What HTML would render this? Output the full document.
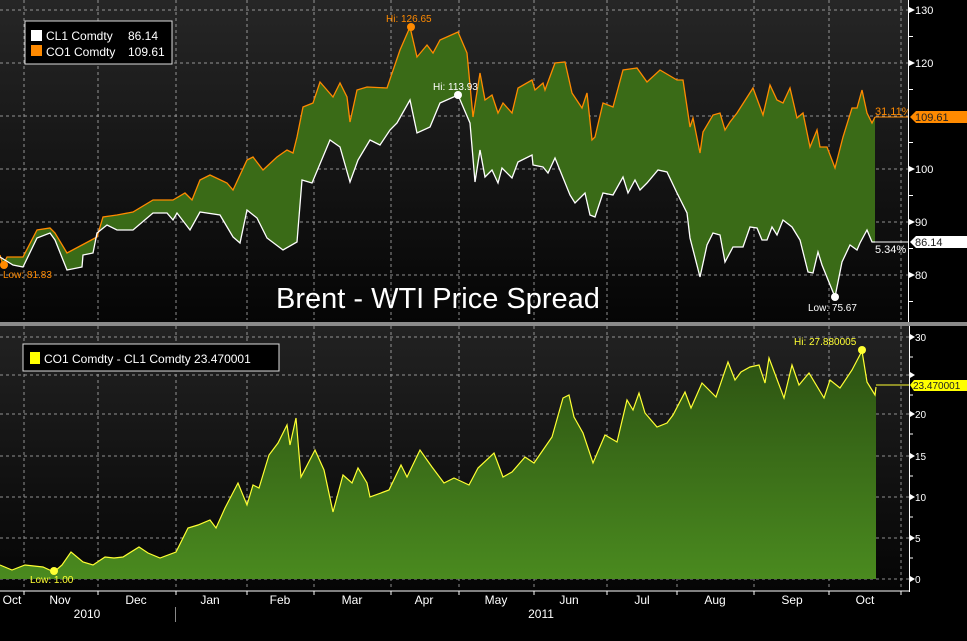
<!DOCTYPE html>
<html><head><meta charset="utf-8"><style>
html,body{margin:0;padding:0;background:#000;width:967px;height:641px;overflow:hidden}
svg{display:block;font-family:"Liberation Sans",sans-serif}
</style></head><body>
<svg id="s" width="967" height="641" viewBox="0 0 967 641" xmlns="http://www.w3.org/2000/svg">
<defs>
<linearGradient id="bg" x1="0" y1="0" x2="0" y2="1"><stop offset="0" stop-color="#262626"/><stop offset="1" stop-color="#050505"/></linearGradient>
<linearGradient id="bg2" x1="0" y1="0" x2="0" y2="1"><stop offset="0" stop-color="#222"/><stop offset="1" stop-color="#050505"/></linearGradient>
<linearGradient id="gf" x1="0" y1="0" x2="0" y2="1"><stop offset="0" stop-color="#2c5212"/><stop offset="1" stop-color="#4a8a1f"/></linearGradient>
</defs>
<rect x="0" y="0" width="908" height="322" fill="url(#bg)"/>
<rect x="0" y="326" width="909" height="264" fill="url(#bg2)"/>
<rect x="0" y="322" width="967" height="4" fill="#8a8a8a"/>
<g id="grid" stroke="#bbb" stroke-width="1" stroke-dasharray="3,3" opacity="0.75"></g>
<g id="data"></g>
<g id="axes"></g>
</svg>
<script>
const NS="http://www.w3.org/2000/svg";
function el(t,a,x,y){let p,txt;if(typeof x==='string'){txt=x;p=y;}else{p=x;txt=y;}const e=document.createElementNS(NS,t);for(const k in a)e.setAttribute(k,a[k]);if(txt!==undefined)e.textContent=txt;(p||document.getElementById('s')).appendChild(e);return e;}
const grid=document.getElementById('grid'),data=document.getElementById('data'),axes=document.getElementById('axes');
const vx=[24,98,176,247,314,391,459,534,607,677,754,829,901];
vx.forEach(x=>{el('line',{x1:x,y1:0,x2:x,y2:320},grid);el('line',{x1:x,y1:326,x2:x,y2:590},grid);});
[10,63,116,169,222,275].forEach(y=>el('line',{x1:0,y1:y,x2:908,y2:y},grid));
[337,375,414,456,497,538,579].forEach(y=>el('line',{x1:0,y1:y,x2:909,y2:y},grid));

const brent=[[0,255],[3,265],[7,257],[23,257],[37,230],[50,228],[55,233],[67,253],[82,245],[97,237],[103,217],[117,215],[133,212],[153,200],[173,200],[185,193],[192,200],[200,180],[210,175],[227,183],[233,190],[247,160],[253,157],[263,170],[277,157],[287,150],[293,153],[297,137],[303,107],[313,103],[320,82],[333,97],[340,83],[347,97],[350,122],[357,90],[367,87],[387,88],[400,50],[410,27],[417,57],[427,45],[433,53],[440,40],[458,32],[467,53],[473,117],[480,73],[485,100],[492,95],[498,113],[503,103],[512,113],[518,88],[532,80],[535,90],[543,83],[545,90],[555,63],[565,62],[572,93],[582,108],[587,93],[592,140],[595,137],[603,103],[613,107],[623,70],[637,68],[647,82],[660,70],[677,80],[683,80],[690,127],[693,118],[700,153],[703,132],[713,115],[720,113],[725,130],[730,122],[737,113],[753,88],[763,115],[770,85],[777,100],[783,103],[790,88],[797,118],[803,113],[810,147],[817,130],[820,147],[827,147],[835,168],[843,137],[852,108],[857,108],[862,90],[867,113],[872,123],[875,117]];
const wti=[[0,257],[13,265],[23,267],[37,238],[50,233],[55,240],[67,270],[82,267],[83,255],[93,253],[97,233],[107,225],[117,230],[133,230],[153,213],[167,213],[173,220],[177,213],[190,230],[200,212],[220,215],[233,237],[240,243],[247,210],[257,218],[267,238],[283,250],[297,242],[302,180],[312,183],[330,140],[340,147],[350,182],[358,160],[370,140],[380,145],[390,130],[397,123],[410,100],[417,133],[430,127],[440,103],[458,95],[470,123],[475,182],[480,150],[485,177],[492,170],[498,183],[502,168],[512,178],[518,162],[532,155],[533,165],[543,167],[548,173],[555,158],[570,195],[575,203],[585,193],[590,215],[595,217],[603,193],[613,195],[623,177],[628,193],[635,180],[640,190],[647,183],[658,170],[667,172],[677,193],[687,213],[690,238],[700,277],[707,245],[713,233],[720,235],[725,262],[733,247],[743,247],[750,227],[757,228],[762,240],[767,240],[772,227],[777,235],[783,220],[792,227],[800,240],[808,272],[813,273],[818,252],[822,265],[835,297],[842,262],[850,245],[857,250],[860,243],[867,230],[872,242],[875,242]];
const spr=[[0,565],[12,570],[25,565],[43,567],[54,572],[62,565],[71,552],[83,562],[93,565],[105,557],[114,558],[123,557],[139,547],[148,553],[160,558],[176,552],[188,528],[198,525],[210,520],[216,528],[225,508],[238,483],[247,505],[253,485],[259,488],[269,455],[278,443],[287,425],[290,445],[296,418],[301,477],[315,450],[324,470],[333,512],[343,475],[352,483],[358,468],[367,483],[370,497],[389,490],[401,465],[407,477],[420,450],[432,467],[444,483],[454,478],[469,485],[478,468],[494,453],[503,477],[512,472],[525,457],[534,463],[543,450],[552,437],[563,398],[569,395],[574,417],[583,433],[593,463],[605,435],[617,442],[627,400],[633,410],[639,393],[645,413],[657,427],[667,423],[673,415],[685,392],[691,408],[702,383],[716,397],[728,362],[735,380],[741,372],[750,367],[759,365],[765,383],[769,358],[784,398],[792,365],[799,385],[809,373],[824,398],[830,380],[840,388],[852,370],[862,351],[867,382],[875,395],[876,387]];
const P=a=>a.map(p=>p[0]+','+p[1]).join(' ');
el('polygon',{points:P(brent)+' '+P(wti.slice().reverse()),fill:'#3a6b17'},data);
el('polyline',{points:P(brent),fill:'none',stroke:'#ff8a00','stroke-width':1.3},data);
el('polyline',{points:P(wti),fill:'none',stroke:'#fff','stroke-width':1.3},data);
el('polygon',{points:P(spr)+' 876,579 0,579',fill:'url(#gf)'},data);
el('polyline',{points:P(spr),fill:'none',stroke:'#ffff33','stroke-width':1.2},data);
el('line',{x1:875,y1:117,x2:908,y2:117,stroke:'#ff8a00'},data);
el('line',{x1:875,y1:242,x2:908,y2:242,stroke:'#fff'},data);
el('line',{x1:876,y1:385,x2:909,y2:385,stroke:'#ffff33'},data);
el('circle',{cx:4,cy:265,r:4,fill:'#ff8a00'},data);
el('text',{x:3,y:278,fill:'#ff8a00','font-size':10},'Low: 81.83',data);
el('circle',{cx:411,cy:27,r:4,fill:'#ff8a00'},data);
el('text',{x:386,y:22,fill:'#ff8a00','font-size':10},'Hi: 126.65',data);
el('circle',{cx:458,cy:95,r:4,fill:'#fff'},data);
el('text',{x:433,y:90,fill:'#fff','font-size':10},'Hi: 113.93',data);
el('circle',{cx:835,cy:297,r:4,fill:'#fff'},data);
el('text',{x:808,y:311,fill:'#fff','font-size':10},'Low: 75.67',data);
el('text',{x:875,y:115,fill:'#ff8a00','font-size':11},'31.11%',data);
el('text',{x:875,y:253,fill:'#fff','font-size':11},'5.34%',data);
el('circle',{cx:54,cy:571,r:4,fill:'#ffff33'},data);
el('text',{x:30,y:583,fill:'#ffff33','font-size':10},'Low: 1.00',data);
el('circle',{cx:862,cy:350,r:4,fill:'#ffff33'},data);
el('text',{x:794,y:345,fill:'#ffff33','font-size':10},'Hi: 27.880005',data);
el('text',{x:276,y:308,fill:'#fff','font-size':29},'Brent - WTI Price Spread',data);
el('rect',{x:25,y:21,width:147,height:43,fill:'#000',stroke:'#ddd','stroke-width':1},axes);
el('rect',{x:31,y:30,width:11,height:11,fill:'#fff'},axes);
el('rect',{x:31,y:45,width:11,height:11,fill:'#ff8a00'},axes);
el('text',{x:46,y:40,fill:'#fff','font-size':12},'CL1 Comdty',axes);
el('text',{x:128,y:40,fill:'#fff','font-size':12},'86.14',axes);
el('text',{x:46,y:56,fill:'#fff','font-size':12},'CO1 Comdty',axes);
el('text',{x:128,y:56,fill:'#fff','font-size':12},'109.61',axes);
el('rect',{x:23,y:344,width:256,height:27,fill:'#000',stroke:'#ddd','stroke-width':1},axes);
el('rect',{x:30,y:352,width:10,height:12,fill:'#ffff00'},axes);
el('text',{x:44,y:363,fill:'#fff','font-size':12},'CO1 Comdty - CL1 Comdty  23.470001',axes);
el('rect',{x:909,y:0,width:58,height:322,fill:'#000'},axes);
el('rect',{x:910,y:326,width:57,height:264,fill:'#000'},axes);
el('line',{x1:908.5,y1:0,x2:908.5,y2:322,stroke:'#fff'},axes);
el('line',{x1:909.5,y1:326,x2:909.5,y2:592,stroke:'#fff'},axes);
[[130,10],[120,63],[110,116],[100,169],[90,222],[80,275]].forEach(([v,y])=>{
 if(v!==110){el('polygon',{points:`909,${y-3} 909,${y+3} 915,${y}`,fill:'#fff'},axes);el('text',{x:915,y:y+4,fill:'#fff','font-size':11},String(v),axes);}
 el('line',{x1:909,y1:y+26.5,x2:913,y2:y+26.5,stroke:'#fff'},axes);
});
[[30,337],[25,375],[20,414],[15,456],[10,497],[5,538],[0,579]].forEach(([v,y])=>{
 el('polygon',{points:`910,${y-3} 910,${y+3} 915,${y}`,fill:'#fff'},axes);
 if(v!==25)el('text',{x:915,y:y+4,fill:'#fff','font-size':10},String(v),axes);
 if(v>0)el('line',{x1:910,y1:y+20,x2:913,y2:y+20,stroke:'#fff'},axes);
});
el('polygon',{points:'910,117 916,111 967,111 967,123 916,123',fill:'#ff8a00'},axes);
el('text',{x:915,y:121,fill:'#222','font-size':11},'109.61',axes);
el('polygon',{points:'910,242 916,236 967,236 967,248 916,248',fill:'#fff'},axes);
el('text',{x:915,y:246,fill:'#222','font-size':11},'86.14',axes);
el('polygon',{points:'910,385 914,380 967,380 967,391 914,391',fill:'#ffff00'},axes);
el('text',{x:913,y:389,fill:'#222','font-size':10},'23.470001',axes);
el('line',{x1:0,y1:591,x2:910,y2:591,stroke:'#fff'},axes);
vx.forEach(x=>el('line',{x1:x,y1:591,x2:x,y2:595,stroke:'#fff'},axes));
[['Oct',12],['Nov',60],['Dec',136],['Jan',210],['Feb',280],['Mar',352],['Apr',424],['May',496],['Jun',569],['Jul',642],['Aug',715],['Sep',792],['Oct',865]].forEach(([t,x])=>el('text',{x:x,y:604,fill:'#fff','font-size':12,'text-anchor':'middle'},t,axes));
el('text',{x:87,y:618,fill:'#fff','font-size':12,'text-anchor':'middle'},'2010',axes);
el('text',{x:541,y:618,fill:'#fff','font-size':12,'text-anchor':'middle'},'2011',axes);
el('line',{x1:175.5,y1:607,x2:175.5,y2:622,stroke:'#888'},axes);
</script>
</body></html>
